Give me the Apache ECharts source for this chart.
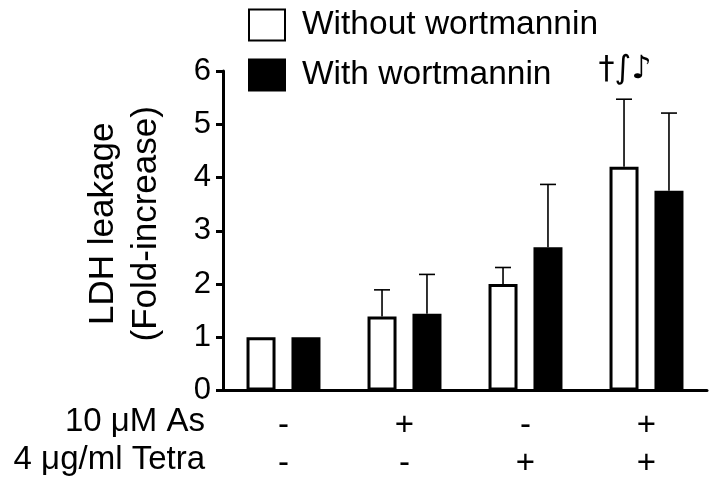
<!DOCTYPE html>
<html>
<head>
<meta charset="utf-8">
<script src="https://cdn.jsdelivr.net/npm/echarts@6/dist/echarts.min.js"></script>
<style>
html,body{margin:0;padding:0;background:#fff;}
#chart{width:709px;height:485px;}
</style>
</head>
<body>
<div id="chart"></div>
<script>
// ---- data ----
const categories = ['g1', 'g2', 'g3', 'g4'];
const asRow = ['-', '+', '-', '+'];
const tetraRow = ['-', '-', '+', '+'];
const rowTitles = ['10 μM As', '4 μg/ml Tetra'];
const seriesNames = ['Without wortmannin', 'With wortmannin'];
const withoutVals = [1.0, 1.39, 2.0, 4.20];
const withoutErrTop = [null, 1.89, 2.31, 5.47];
const withVals = [1.0, 1.44, 2.69, 3.75];
const withErrTop = [null, 2.18, 3.87, 5.21];
const annotations = ['', '', '', '†∫♪'];
const yMin = 0, yMax = 6, yInterval = 1;

// ---- chart ----
const FONT = '"Liberation Sans", Arial, Helvetica, sans-serif';
const BAR_W = 29;
const BAR_GAP = 0.55;
const OFFSET = (BAR_W + BAR_W * BAR_GAP) / 2;

const chart = echarts.init(document.getElementById('chart'), null, {renderer: 'canvas'});

function errSeries(name, vals, tops, dir, ann) {
  return {
    type: 'custom',
    name: name + ' err',
    z: 5,
    silent: true,
    data: vals.map((v, i) => [i, v, tops[i]]),
    renderItem: function (params, api) {
      const i = api.value(0);
      const top = api.value(2);
      const children = [];
      const cx = api.coord([i, 0])[0] + dir * OFFSET;
      if (top != null && !isNaN(top)) {
        const pBar = api.coord([i, api.value(1)]);
        const pTop = api.coord([i, top]);
        children.push({type: 'line', shape: {x1: cx, y1: pBar[1], x2: cx, y2: pTop[1]}, style: {stroke: '#000', lineWidth: 1.6}});
        children.push({type: 'line', shape: {x1: cx - 8, y1: pTop[1], x2: cx + 8, y2: pTop[1]}, style: {stroke: '#000', lineWidth: 1.6}});
        if (ann && ann[i]) {
          children.push({type: 'text', style: {text: ann[i], x: cx + 1, y: pTop[1] - 14, align: 'center', verticalAlign: 'bottom', fill: '#000', font: '32px "DejaVu Sans", sans-serif'}});
        }
      }
      return {type: 'group', children: children};
    }
  };
}

const option = {
  backgroundColor: '#fff',
  animation: false,
  textStyle: {fontFamily: FONT, color: '#000'},
  legend: {
    orient: 'vertical',
    left: 243,
    top: 3,
    itemWidth: 36,
    itemHeight: 31,
    itemGap: 16,
    data: [{name: seriesNames[0], icon: 'rect'}, {name: seriesNames[1], icon: 'rect'}],
    textStyle: {fontSize: 33.5, fontFamily: FONT, color: '#000', padding: [0, 0, 0, 12]},
    selectedMode: false
  },
  grid: {left: 223, right: 2, top: 71, bottom: 94.5, containLabel: false},
  xAxis: {
    type: 'category',
    data: categories,
    axisLine: {lineStyle: {color: '#000', width: 3}},
    axisTick: {alignWithLabel: true, length: 8, lineStyle: {color: '#000', width: 3}},
    axisLabel: {
      margin: 16,
      fontSize: 33,
      fontFamily: FONT,
      color: '#000',
      lineHeight: 38,
      formatter: function (v, idx) { return asRow[idx] + '\n' + tetraRow[idx]; }
    }
  },
  yAxis: {
    type: 'value',
    min: yMin, max: yMax, interval: yInterval,
    name: 'LDH leakage\n(Fold-increase)',
    nameLocation: 'middle',
    nameRotate: 90,
    nameGap: 55,
    nameTextStyle: {fontSize: 35, fontFamily: FONT, color: '#000', lineHeight: 43, padding: [0, 0, 0, 14]},
    splitLine: {show: false},
    axisLine: {show: true, lineStyle: {color: '#000', width: 3}},
    axisTick: {show: true, length: 7, lineStyle: {color: '#000', width: 3}},
    axisLabel: {margin: 12, fontSize: 31, fontFamily: FONT, color: '#000'}
  },
  series: [
    {
      name: seriesNames[0], type: 'bar', data: withoutVals,
      barWidth: BAR_W, barGap: (BAR_GAP * 100) + '%',
      itemStyle: {color: '#fff', borderColor: '#000', borderWidth: 3}
    },
    {
      name: seriesNames[1], type: 'bar', data: withVals,
      barWidth: BAR_W, barGap: (BAR_GAP * 100) + '%',
      itemStyle: {color: '#000', borderColor: '#000', borderWidth: 3}
    },
    errSeries(seriesNames[0], withoutVals, withoutErrTop, -1, annotations),
    errSeries(seriesNames[1], withVals, withErrTop, 1, null)
  ],
  graphic: [
    {type: 'text', right: 709 - 205, top: 405, style: {text: rowTitles[0], font: '33px ' + FONT, fill: '#000', align: 'right'}},
    {type: 'text', right: 709 - 205, top: 443, style: {text: rowTitles[1], font: '33px ' + FONT, fill: '#000', align: 'right'}}
  ]
};
chart.setOption(option);
</script>
</body>
</html>
